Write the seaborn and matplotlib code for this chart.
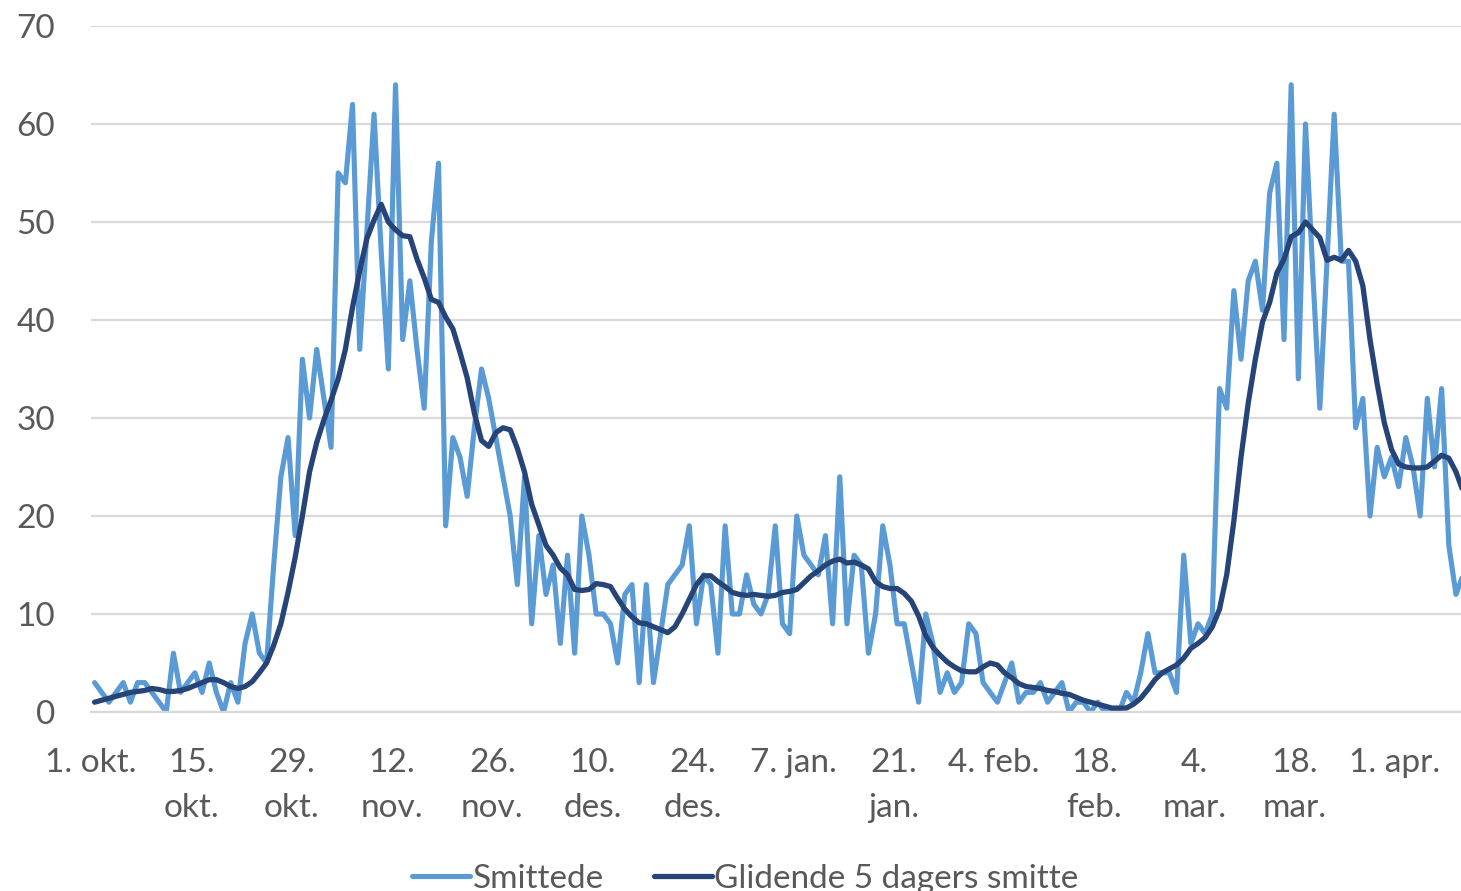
import numpy as np
import pandas as pd
import matplotlib
matplotlib.use("Agg")
import matplotlib.pyplot as plt
import seaborn as sns

# daglige tall, 1. okt. og 192 dager framover
start_date = "2020-10-01"

smittede = [
    3, 2, 1, 2, 3, 1, 3, 3, 2, 1, 0, 6, 2, 3, 4, 2, 5, 2, 0, 3,
    1, 7, 10, 6, 5, 15, 24, 28, 18, 36, 30, 37, 32, 27, 55, 54, 62, 37, 49, 61,
    47, 35, 64, 38, 44, 37, 31, 48, 56, 19, 28, 26, 22, 29, 35, 32, 28, 24, 20, 13,
    24, 9, 18, 12, 15, 7, 16, 6, 20, 16, 10, 10, 9, 5, 12, 13, 3, 13, 3, 8,
    13, 14, 15, 19, 9, 14, 13, 6, 19, 10, 10, 14, 11, 10, 12, 19, 9, 8, 20, 16,
    15, 14, 18, 9, 24, 9, 16, 15, 6, 10, 19, 15, 9, 9, 5, 1, 10, 7, 2, 4,
    2, 3, 9, 8, 3, 2, 1, 3, 5, 1, 2, 2, 3, 1, 2, 3, 0, 1, 1, 0,
    1, 0, 0, 0, 2, 1, 4, 8, 4, 4, 4, 2, 16, 7, 9, 8, 10, 33, 31, 43,
    36, 44, 46, 41, 53, 56, 38, 64, 34, 60, 45, 31, 46, 61, 46, 46, 29, 32, 20, 27,
    24, 26, 23, 28, 25, 20, 32, 25, 33, 17, 12, 14,
]

glidende = [
    1.0, 1.2, 1.4, 1.6, 1.8, 2.0, 2.1, 2.2, 2.4, 2.3, 2.1, 2.1, 2.2, 2.4, 2.7, 3.0, 3.3, 3.3, 3.0, 2.6,
    2.4, 2.6, 3.1, 4.0, 5.0, 6.8, 9.0, 12.2, 15.8, 20.0, 24.5, 27.5, 29.8, 31.8, 34.0, 37.0, 41.3, 45.0, 48.3, 50.2,
    51.8, 50.0, 49.2, 48.6, 48.5, 46.2, 44.3, 42.1, 41.8, 40.3, 39.1, 36.7, 34.1, 30.5, 27.7, 27.1, 28.5, 29.0, 28.8, 26.9,
    24.5, 21.2, 19.1, 17.0, 16.0, 14.7, 14.0, 12.5, 12.4, 12.5, 13.1, 13.0, 12.8, 11.6, 10.5, 9.7, 9.1, 9.0, 8.7, 8.4,
    8.1, 8.7, 10.0, 11.5, 13.0, 13.9, 13.9, 13.3, 12.8, 12.2, 12.0, 11.9, 12.0, 11.9, 11.8, 11.9, 12.2, 12.3, 12.5, 13.2,
    13.9, 14.4, 15.0, 15.4, 15.6, 15.2, 15.3, 15.0, 14.6, 13.3, 12.8, 12.6, 12.6, 12.1, 11.3, 9.8, 7.8, 6.6, 5.8, 5.1,
    4.6, 4.2, 4.1, 4.1, 4.6, 5.0, 4.8, 4.0, 3.5, 2.9, 2.6, 2.5, 2.4, 2.2, 2.1, 1.9, 1.8, 1.5, 1.2, 1.0,
    0.8, 0.6, 0.4, 0.4, 0.4, 0.8, 1.4, 2.3, 3.3, 4.0, 4.4, 4.8, 5.5, 6.5, 7.0, 7.6, 8.7, 10.5, 14.0, 19.5,
    26.0, 31.5, 36.0, 39.8, 41.8, 44.8, 46.2, 48.5, 48.9, 50.0, 49.2, 48.4, 46.1, 46.4, 46.1, 47.1, 46.0, 43.5, 38.0, 33.5,
    29.5, 26.8, 25.3, 25.0, 24.9, 24.9, 25.0, 25.6, 26.2, 25.9, 24.5, 22.5,
]

tick_labels = [
    "1. okt.", "15.\nokt.", "29.\nokt.", "12.\nnov.", "26.\nnov.", "10.\ndes.", "24.\ndes.",
    "7. jan.", "21.\njan.", "4. feb.", "18.\nfeb.", "4.\nmar.", "18.\nmar.", "1. apr.",
]

# data -> long format
dates = pd.date_range(start_date, periods=len(smittede), freq="D")
df = pd.DataFrame({
    "dato": dates + pd.Timedelta(hours=12),
    "Smittede": smittede,
    "Glidende 5 dagers smitte": glidende,
})

sns.set_style("white")
plt.rcParams["font.family"] = ["Lato", "DejaVu Sans"]

TEXT = "#595959"
GRID = "#d9d9d9"
FS = 24

fig = plt.figure(figsize=(14.61, 8.91), dpi=100)
ax = fig.add_axes([91 / 1461, 179 / 891, 1370 / 1461, 686 / 891])

sns.lineplot(data=df, x="dato", y="Smittede", color="#5b9bd5", lw=3.7,
             ax=ax, label="Smittede")
sns.lineplot(data=df, x="dato", y="Glidende 5 dagers smitte", color="#264478", lw=3.8,
             ax=ax, label="Glidende 5 dagers smitte")

ax.set_ylim(0, 70)
ax.set_yticks(range(0, 71, 10))
ax.set_xlim(dates[0], dates[0] + pd.Timedelta(days=191.2))

tick_dates = pd.date_range(start_date, periods=len(tick_labels), freq="14D")
ax.set_xticks(tick_dates)
ax.set_xticklabels(tick_labels)
for lab in ax.get_xticklabels():
    lab.set_linespacing(1.6)

ax.set_xlabel("")
ax.set_ylabel("")
ax.grid(axis="y", color=GRID, lw=1.6)
ax.set_axisbelow(True)
for side in ["top", "right", "left"]:
    ax.spines[side].set_visible(False)
ax.spines["bottom"].set_color(GRID)
ax.spines["bottom"].set_linewidth(1.6)

ax.tick_params(axis="x", length=8, width=1.6, color=GRID, pad=18,
               labelsize=FS, labelcolor=TEXT)
ax.tick_params(axis="y", length=0, pad=26, labelsize=FS, labelcolor=TEXT)

handles, labels = ax.get_legend_handles_labels()
ax.get_legend().remove()
fig.legend(handles, labels, loc="center", bbox_to_anchor=(0.51, 0.014), ncol=2,
           frameon=False, fontsize=FS, handlelength=1.75, handletextpad=0.06,
           columnspacing=1.5, labelcolor=TEXT)

fig.savefig("out.png", dpi=100)
